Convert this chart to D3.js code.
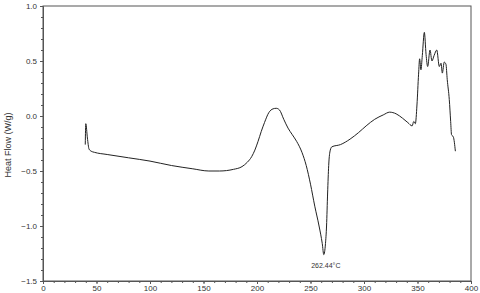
<!DOCTYPE html>
<html><head><meta charset="utf-8">
<script src="https://cdn.jsdelivr.net/npm/d3@7"></script>
<style>body{margin:0;background:#fff}svg{display:block}text{font-family:"Liberation Sans",Arial,sans-serif;fill:#333}</style>
</head><body><svg id="c" width="480" height="293"></svg>
<script>
const temperature = [39.5,40,41.5,43,45,48,60,80,100,120,140,155,165,178,186,191,195,198,201,204,207,211,215,218,221,225,229,233,237,242,246,250,254,258,261,262.4,264,265,266,267,268.5,270,278,287,295,302,310,318,324,330,336,341,345,346.5,348,349.5,351,352,353.2,354.5,356.4,358,359.5,361.7,363.5,365.5,368,370.4,372,373.2,375,376.6,377.8,379.7,381,381.8,383.5,385.4];
const heatFlow = [-0.26,-0.07,-0.2,-0.3,-0.32,-0.33,-0.35,-0.38,-0.41,-0.45,-0.48,-0.5,-0.5,-0.485,-0.46,-0.42,-0.37,-0.31,-0.23,-0.14,-0.06,0.03,0.065,0.07,0.055,-0.03,-0.11,-0.17,-0.23,-0.33,-0.45,-0.62,-0.82,-1.0,-1.16,-1.26,-1.16,-1.0,-0.7,-0.45,-0.31,-0.28,-0.26,-0.21,-0.15,-0.09,-0.03,0.01,0.035,0.02,-0.02,-0.06,-0.09,-0.05,-0.07,0.1,0.38,0.52,0.42,0.55,0.76,0.56,0.45,0.6,0.5,0.55,0.6,0.45,0.48,0.39,0.49,0.47,0.33,0.15,-0.05,-0.17,-0.19,-0.32];
const xTicks = [0,50,100,150,200,250,300,350,400];
const yTicks = [-1.5,-1.0,-0.5,0.0,0.5,1.0];
const yTitle = "Heat Flow (W/g)";
const peakLabel = "262.44°C";
const peakT = 262.44, peakV = -1.26;

const W=480,H=293,m={l:43,t:6,r:9,b:12};
const svg=d3.select("#c");
const x=d3.scaleLinear().domain([0,400]).range([m.l,W-m.r]);
const y=d3.scaleLinear().domain([-1.5,1.0]).range([H-m.b,m.t]);

svg.append("rect").attr("x",m.l).attr("y",m.t).attr("width",W-m.r-m.l).attr("height",H-m.b-m.t)
  .attr("fill","none").attr("stroke","#555").attr("stroke-width",1);

svg.append("g").attr("transform",`translate(0,${H-m.b})`)
  .call(d3.axisBottom(x).tickValues(xTicks).tickFormat(d3.format("d")).tickSize(3).tickPadding(1));
svg.append("g").attr("transform",`translate(0,${H-m.b})`)
  .call(d3.axisBottom(x).tickValues(d3.range(0,401,10)).tickFormat("").tickSize(2))
  .call(g=>g.select(".domain").remove());
svg.append("g").attr("transform",`translate(${m.l},0)`)
  .call(d3.axisLeft(y).tickValues(yTicks).tickFormat(d3.format(".1f")).tickSize(3).tickPadding(3));
svg.append("g").attr("transform",`translate(${m.l},0)`)
  .call(d3.axisLeft(y).tickValues(d3.range(-15,11,1).map(v=>v/10)).tickFormat("").tickSize(2))
  .call(g=>g.select(".domain").remove());
svg.selectAll(".tick line").attr("stroke","#555");
svg.selectAll(".domain").attr("stroke","#555");
svg.selectAll(".tick text").attr("font-size",8).style("fill","#333");

svg.append("text").attr("transform",`translate(11,145) rotate(-90)`)
  .attr("text-anchor","middle").attr("font-size",9).text(yTitle);

const data=temperature.map((t,i)=>[t,heatFlow[i]]);
svg.append("path").datum(data).attr("fill","none").attr("stroke","#222").attr("stroke-width",1)
  .attr("d",d3.line().x(d=>x(d[0])).y(d=>y(d[1])).curve(d3.curveMonotoneX));

svg.append("text").attr("x",x(peakT)+2).attr("y",y(peakV)+13).attr("text-anchor","middle")
  .attr("font-size",7).text(peakLabel);
</script></body></html>
